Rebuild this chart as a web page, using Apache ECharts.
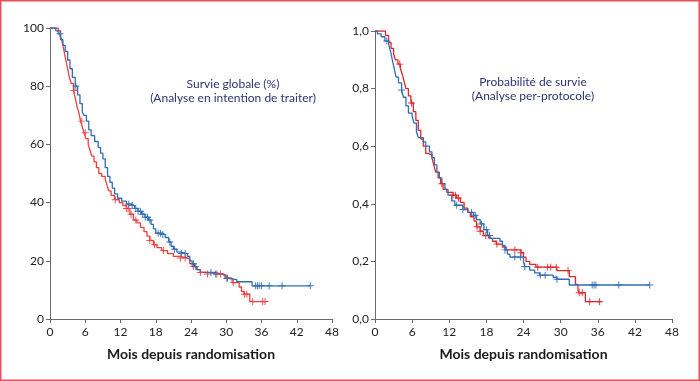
<!DOCTYPE html>
<html>
<head>
<meta charset="utf-8">
<script src="https://cdn.jsdelivr.net/npm/echarts@6/dist/echarts.min.js"></script>
<style>
html,body{margin:0;padding:0;background:#fff;}
#chart{width:700px;height:381px;}
</style>
</head>
<body>
<div id="chart"></div>
<script>
// ---- Data ----
const xTicks = [0, 6, 12, 18, 24, 30, 36, 42, 48];
const leftYTicks = [0, 20, 40, 60, 80, 100];
const rightYTicks = ['0,0', '0,2', '0,4', '0,6', '0,8', '1,0'];
const leftNote = ['Survie globale (%)', '(Analyse en intention de traiter)'];
const rightNote = ['Probabilité de survie', '(Analyse per-protocole)'];
const xTitle = 'Mois depuis randomisation';

// Left panel: ITT, overall survival (%)
const ittBlueT = [0,1.0,1.4,1.8,2.2,2.6,3.0,3.4,3.8,4.3,4.7,5.1,5.5,5.8,6.2,6.6,7.0,7.6,8.2,8.6,9.0,9.4,9.8,10.2,10.6,11.0,11.5,12.2,13.0,13.8,14.4,15.0,15.6,16.2,16.8,17.2,17.6,18.0,19.0,19.6,20.2,20.6,21.0,21.6,22.2,23.4,23.8,24.2,24.6,25.0,25.6,28.0,29.0,29.8,30.3,31.8,34.4,44.3];
const ittBlueS = [100,99,98,96,94,92,89,86,83,80,77,74,71,70,68,65,63,61,59,57,55,52,49,47,45,43,41.5,40.5,39.5,39,38,37,36,35,34,32.5,31,29.5,29,28,26.5,25,24,23,22.5,21.5,20,19,18,17,16,15.5,15,14,13.5,12.8,11.4,11.4];
const ittBlueCens = [1.7,4.4,13.4,14.0,14.6,15.0,15.4,15.8,16.2,16.6,17.0,18.4,18.8,19.2,20.4,21.2,22.4,23.0,24.4,24.8,27.4,28.2,30.2,35.0,35.3,35.6,36.0,37.3,39.5,44.3];
const ittRedT = [0,1.4,1.8,2.1,2.4,2.7,3.0,3.3,3.6,4.0,4.3,4.6,4.9,5.2,5.5,5.8,6.1,6.5,6.8,7.1,7.5,7.9,8.3,8.8,9.4,9.7,10.0,10.4,11.0,11.8,12.4,13.0,13.6,14.2,14.8,15.4,16.0,16.5,17.0,17.6,18.2,19.0,20.0,21.0,22.0,23.4,23.8,24.2,25.0,25.6,26.4,29.5,30.0,31.0,32.2,32.6,33.0,34.0,36.9];
const ittRedS = [100,99,97,95,92,89,86,83,81,78.5,76,73,71,68,66,64,62,60,58,56,54,52,50,49,48,46,44,42.5,41,40,39,38,36,34,33,31.5,30,28.5,27,25.5,24.5,23.5,22.5,21.5,21,20.5,19,18,17,16,15.5,15,14,12.5,11,9.5,8.5,6,6];
const ittRedCens = [4.1,5.4,6.0,11.1,13.0,13.3,13.8,14.6,17.0,17.8,19.3,22.2,23.0,24.4,25.6,26.8,28.4,29.0,30.1,31.2,33.1,33.5,34.5,36.2,36.6];

// Right panel: per-protocol, survival probability
const ppBlueT = [0,0.4,1.0,1.6,2.2,2.5,2.8,3.1,3.4,3.8,4.3,4.6,5.0,5.4,6.0,6.3,6.7,7.0,7.8,8.2,8.8,9.2,9.6,10.0,10.4,10.8,11.3,11.8,12.4,12.9,14.2,15.0,15.9,16.4,17.0,17.6,18.2,18.6,20.2,20.6,21.0,21.4,21.8,24.0,24.2,25.0,25.8,26.6,28.8,29.4,31.4,44.4];
const ppBlueS = [1.0,0.99,0.98,0.965,0.955,0.93,0.9,0.87,0.84,0.82,0.795,0.77,0.74,0.715,0.705,0.68,0.65,0.63,0.615,0.6,0.58,0.56,0.535,0.51,0.49,0.47,0.45,0.43,0.41,0.395,0.38,0.37,0.36,0.345,0.33,0.31,0.29,0.28,0.27,0.255,0.24,0.225,0.215,0.2,0.182,0.17,0.16,0.152,0.145,0.138,0.118,0.118];
const ppBlueCens = [1.9,4.3,13.2,14.2,15.6,16.2,17.2,18.0,18.5,21.0,22.6,23.5,24.2,26.7,27.5,29.4,35.1,35.4,35.7,39.4,44.4];
const ppRedT = [0,1.7,2.2,2.6,3.0,3.3,3.7,4.1,4.4,4.7,5.0,5.4,5.8,6.2,6.6,7.0,7.4,7.8,8.2,8.6,9.2,9.5,9.8,10.2,10.6,11.0,11.6,12.6,13.2,13.8,14.4,15.0,15.4,16.0,16.4,17.0,17.5,18.4,19.0,19.6,20.6,21.2,23.6,24.0,24.4,25.0,26.0,29.4,31.4,32.4,32.8,33.0,34.0,36.6];
const ppRedS = [1.0,0.985,0.96,0.94,0.92,0.9,0.885,0.87,0.85,0.825,0.8,0.775,0.75,0.72,0.69,0.655,0.625,0.6,0.575,0.57,0.56,0.535,0.51,0.49,0.47,0.45,0.44,0.43,0.42,0.405,0.385,0.37,0.355,0.34,0.32,0.305,0.29,0.28,0.27,0.26,0.25,0.24,0.23,0.215,0.2,0.19,0.18,0.168,0.147,0.12,0.1,0.091,0.06,0.06];
const ppRedCens = [4.0,5.9,10.8,12.6,13.0,13.5,16.5,17.0,17.9,19.7,22.6,23.6,26.3,27.9,28.4,29.3,31.2,33.0,33.5,34.7,36.3];

// ---- Build ----
const BLUE = '#2f6db3';
const RED_L = '#ef3e3e';
const RED_R = '#e0262c';
const AXIS = '#6b6b6b';
const NAVY = '#2c3470';
const FONT = 'Lato';

function zip(t, s) { return t.map((x, i) => [x, s[i]]); }
function lookup(t, s, c) {
  let v = s[0];
  for (let i = 0; i < t.length; i++) { if (t[i] <= c) v = s[i]; }
  return v;
}
function cens(t, s, list) { return list.map(c => [c, lookup(t, s, c)]); }

const plus = 'path://M4.3,0H5.7V10H4.3Z M0,4.3H10V5.7H0Z';

function xAxis(gi) {
  return {
    gridIndex: gi, type: 'value', min: 0, max: 48, interval: 6,
    axisLine: {show: true, lineStyle: {color: AXIS, width: 1}},
    axisTick: {show: true, length: 4, lineStyle: {color: AXIS}},
    axisLabel: {color: '#222', fontSize: 12, fontFamily: FONT, margin: 7,
      formatter: v => String(xTicks[xTicks.indexOf(v)])},
    splitLine: {show: false},
    name: xTitle, nameLocation: 'middle', nameGap: 28,
    nameTextStyle: {color: '#1a1a1a', fontSize: 14, fontWeight: 'bold', fontFamily: FONT}
  };
}
function yAxis(gi, max, interval, labels) {
  return {
    gridIndex: gi, type: 'value', min: 0, max: max, interval: interval,
    axisLine: {show: true, lineStyle: {color: AXIS, width: 1}},
    axisTick: {show: true, length: 4, lineStyle: {color: AXIS}},
    axisLabel: {color: '#222', fontSize: 12, fontFamily: FONT, margin: 6,
      formatter: v => String(labels[Math.round(v / interval)])},
    splitLine: {show: false}
  };
}
function line(xi, t, s, color) {
  return {type: 'line', xAxisIndex: xi, yAxisIndex: xi, data: zip(t, s), step: 'end',
    showSymbol: false, symbol: 'none', lineStyle: {color: color, width: 1.3}, silent: true, z: 2};
}
function marks(xi, t, s, list, color) {
  return {type: 'scatter', xAxisIndex: xi, yAxisIndex: xi, data: cens(t, s, list),
    symbol: plus, symbolSize: 7, itemStyle: {color: color, opacity: 0.9}, silent: true, z: 3};
}

const chart = echarts.init(document.getElementById('chart'), null, {renderer: 'canvas'});
chart.setOption({
  animation: false,
  backgroundColor: '#ffffff',
  grid: [
    {left: 50, top: 28, width: 282, height: 291},
    {left: 375, top: 31, width: 297, height: 288}
  ],
  xAxis: [xAxis(0), xAxis(1)],
  yAxis: [yAxis(0, 100, 20, leftYTicks), yAxis(1, 1, 0.2, rightYTicks)],
  series: [
    line(0, ittRedT, ittRedS, RED_L),
    line(0, ittBlueT, ittBlueS, BLUE),
    marks(0, ittRedT, ittRedS, ittRedCens, RED_L),
    marks(0, ittBlueT, ittBlueS, ittBlueCens, BLUE),
    line(1, ppRedT, ppRedS, RED_R),
    line(1, ppBlueT, ppBlueS, BLUE),
    marks(1, ppRedT, ppRedS, ppRedCens, RED_R),
    marks(1, ppBlueT, ppBlueS, ppBlueCens, BLUE)
  ],
  graphic: [
    {type: 'rect', shape: {x: 0.75, y: 0.75, width: 698.5, height: 379.5},
      style: {fill: 'none', stroke: '#e8505b', lineWidth: 1.5}, silent: true, z: 10},
    {type: 'text', x: 233, y: 77, style: {text: leftNote.join('\n'), align: 'center',
      fill: NAVY, fontSize: 12, fontFamily: FONT, lineHeight: 14}},
    {type: 'text', x: 533, y: 75, style: {text: rightNote.join('\n'), align: 'center',
      fill: NAVY, fontSize: 12, fontFamily: FONT, lineHeight: 14}}
  ]
});
</script>
</body>
</html>
